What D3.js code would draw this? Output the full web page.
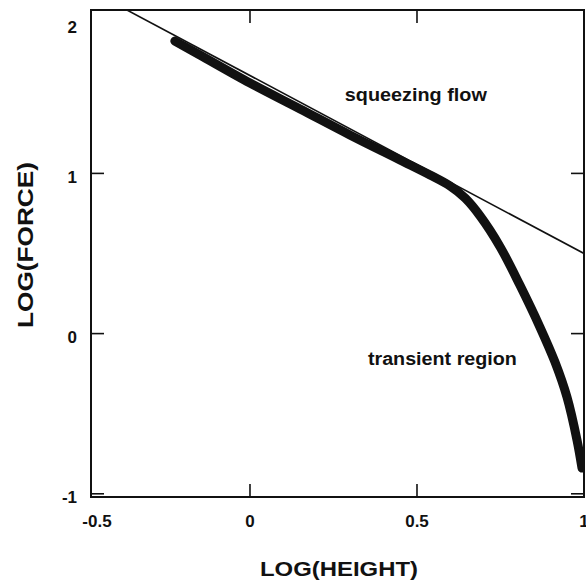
<!DOCTYPE html>
<html>
<head>
    <meta charset="utf-8">
    <title>Log force vs log height</title>
    <script src="https://d3js.org/d3.v7.min.js"></script>
    <style>
        body {
            margin: 0;
            background: #fff;
            font-family: Arial, "Liberation Sans", sans-serif;
        }
        text {
            font-weight: bold;
            fill: #111;
        }
        .frame {
            stroke: #111;
            stroke-width: 2px;
            fill: none;
        }
        .tick {
            stroke: #111;
            stroke-width: 1.6px;
        }
    </style>
</head>
<body>
<div id="chart"></div>
<script>
    // tick values
    const xTicks = [-0.5, 0, 0.5, 1];
    const yTicks = [-1, 0, 1, 2];

    const logHeight = [-0.225, -0.150, 0.000, 0.150, 0.299, 0.449, 0.539, 0.599, 0.644, 0.689, 0.749, 0.808, 0.868, 0.913, 0.949, 0.979, 0.994];
    const logForce  = [1.826, 1.739, 1.564, 1.402, 1.240, 1.084, 0.990, 0.921, 0.846, 0.734, 0.541, 0.303, 0.041, -0.177, -0.396, -0.664, -0.839];

    // squeezing flow fit line
    const fitHeight = [-0.5, 1];
    const fitForce  = [2.166, 0.50];

    // annotations
    const noteText = ["squeezing flow", "transient region"];
    const noteX = [0.284, 0.353];
    const noteY = [1.452, -0.196];

    const width = 586, height = 582;

    const svg = d3.select("#chart")
        .append("svg")
        .attr("width", width)
        .attr("height", height);

    const x = d3.scaleLinear().domain([-0.476, 1]).range([91, 584]);
    const y = d3.scaleLinear().domain([-1.02, 2.02]).range([497, 10]);

    const [x0, x1] = x.range();
    const [y0, y1] = y.range();

    svg.append("clipPath")
        .attr("id", "plot-clip")
        .append("rect")
        .attr("x", x0)
        .attr("y", y1)
        .attr("width", x1 - x0)
        .attr("height", y0 - y1);

    const plot = svg.append("g").attr("clip-path", "url(#plot-clip)");

    // fit line
    const fit = fitHeight.map((d, i) => [d, fitForce[i]]);
    plot.append("path")
        .datum(fit)
        .attr("fill", "none")
        .attr("stroke", "#111")
        .attr("stroke-width", 1.6)
        .attr("d", d3.line().x(d => x(d[0])).y(d => y(d[1])));

    // data band (dense markers in the original, drawn as a thick path)
    const pts = logHeight.map((d, i) => [d, logForce[i]]);
    plot.append("path")
        .datum(pts)
        .attr("fill", "none")
        .attr("stroke", "#111")
        .attr("stroke-width", 9)
        .attr("stroke-linecap", "round")
        .attr("stroke-linejoin", "round")
        .attr("d", d3.line().curve(d3.curveCatmullRom.alpha(0.5)).x(d => x(d[0])).y(d => y(d[1])));

    // frame
    svg.append("rect")
        .attr("class", "frame")
        .attr("x", x0)
        .attr("y", y1)
        .attr("width", x1 - x0)
        .attr("height", y0 - y1);

    const tickLen = 13;

    // x ticks (bottom and top, pointing inward)
    const xIn = xTicks.filter(d => d > x.domain()[0] && d < x.domain()[1]);
    svg.selectAll(".xtick-b")
        .data(xIn)
        .enter()
        .append("line")
        .attr("class", "tick")
        .attr("x1", d => x(d)).attr("x2", d => x(d))
        .attr("y1", y0).attr("y2", y0 - tickLen);
    svg.selectAll(".xtick-t")
        .data(xIn)
        .enter()
        .append("line")
        .attr("class", "tick")
        .attr("x1", d => x(d)).attr("x2", d => x(d))
        .attr("y1", y1).attr("y2", y1 + tickLen);

    // y ticks (left and right)
    const yIn = yTicks.filter(d => d > y.domain()[0] && d < y.domain()[1] - 0.05);
    svg.selectAll(".ytick-l")
        .data(yIn)
        .enter()
        .append("line")
        .attr("class", "tick")
        .attr("x1", x0).attr("x2", x0 + tickLen)
        .attr("y1", d => y(d)).attr("y2", d => y(d));
    svg.selectAll(".ytick-r")
        .data(yIn)
        .enter()
        .append("line")
        .attr("class", "tick")
        .attr("x1", x1).attr("x2", x1 - tickLen)
        .attr("y1", d => y(d)).attr("y2", d => y(d));

    // tick labels, nudged inside the frame ends
    svg.selectAll(".xlab")
        .data(xTicks)
        .enter()
        .append("text")
        .attr("x", d => Math.max(x(d), x0 + 6))
        .attr("y", 527)
        .attr("text-anchor", "middle")
        .style("font-size", "17px")
        .text(d => String(d));

    svg.selectAll(".ylab")
        .data(yTicks)
        .enter()
        .append("text")
        .attr("x", 77)
        .attr("y", d => Math.max(y(d) + 9.5, y1 + 23))
        .attr("text-anchor", "end")
        .style("font-size", "17px")
        .text(d => String(d));

    // axis titles
    svg.append("text")
        .attr("x", 339)
        .attr("y", 576)
        .attr("text-anchor", "middle")
        .attr("textLength", 158)
        .attr("lengthAdjust", "spacingAndGlyphs")
        .style("font-size", "21px")
        .text("LOG(HEIGHT)");

    svg.append("text")
        .attr("transform", "translate(33,245) rotate(-90)")
        .attr("text-anchor", "middle")
        .attr("textLength", 166)
        .attr("lengthAdjust", "spacingAndGlyphs")
        .style("font-size", "22px")
        .text("LOG(FORCE)");

    // annotations
    svg.selectAll(".note")
        .data(noteText)
        .enter()
        .append("text")
        .attr("x", (d, i) => x(noteX[i]))
        .attr("y", (d, i) => y(noteY[i]))
        .attr("textLength", (d, i) => i === 0 ? 142 : 149)
        .attr("lengthAdjust", "spacingAndGlyphs")
        .style("font-size", "18px")
        .text(d => d);
</script>
</body>
</html>
